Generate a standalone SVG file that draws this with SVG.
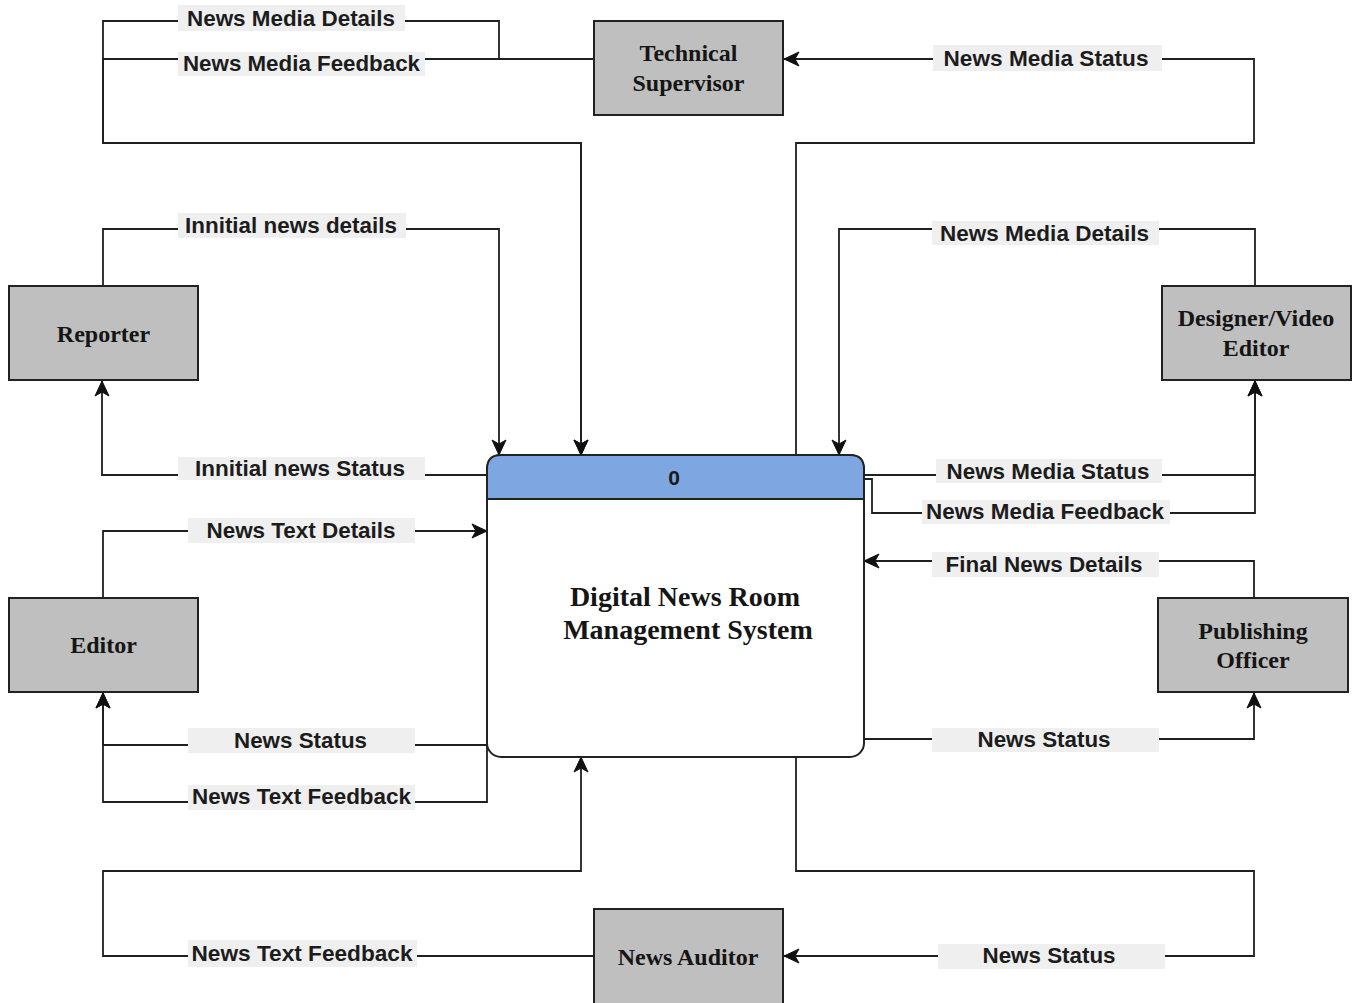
<svg xmlns="http://www.w3.org/2000/svg" width="1356" height="1003" viewBox="0 0 1356 1003">
<style>
.ln{fill:none;stroke:#1f1f1f;stroke-width:1.8}
.lbg{fill:#efefef}
.lt{font-family:"Liberation Sans",Arial,sans-serif;font-size:22px;font-weight:bold;fill:#1c1c1c;text-anchor:middle}
.box{fill:#bfbfbf;stroke:#222;stroke-width:2}
.et{font-family:"Liberation Serif","Times New Roman",serif;font-size:24px;font-weight:bold;fill:#151515;text-anchor:middle}
.pt{font-family:"Liberation Serif","Times New Roman",serif;font-size:28px;font-weight:bold;fill:#151515;text-anchor:middle}
</style>
<defs>
<marker id="arr" markerUnits="userSpaceOnUse" markerWidth="18" markerHeight="16" viewBox="0 0 18 16" refX="16" refY="8" orient="auto">
<path d="M1,1 L16,8 L1,15 L5,8 Z" fill="#111" stroke="#111" stroke-width="1" stroke-linejoin="miter"/>
</marker>
</defs>
<rect width="1356" height="1003" fill="#ffffff"/>

<g id="connectors">
<path class="ln" d="M594,59 L499,59 L499,21 L103,21 L103,143 L581,143 L581,455" marker-end="url(#arr)"/>
<path class="ln" d="M594,59 L103,59 L103,143 L581,143 L581,455" marker-end="url(#arr)"/>
<path class="ln" d="M796,455 L796,143 L1254,143 L1254,59 L784,59" marker-end="url(#arr)"/>
<path class="ln" d="M103,286 L103,229 L499,229 L499,455" marker-end="url(#arr)"/>
<path class="ln" d="M487,475 L102,475 L102,381" marker-end="url(#arr)"/>
<path class="ln" d="M103,597 L103,531 L487,531" marker-end="url(#arr)"/>
<path class="ln" d="M487,745 L103,745 L103,693" marker-end="url(#arr)"/>
<path class="ln" d="M487,745 L487,802 L103,802 L103,693" marker-end="url(#arr)"/>
<path class="ln" d="M594,956 L103,956 L103,871 L581,871 L581,757" marker-end="url(#arr)"/>
<path class="ln" d="M796,757 L796,871 L1254,871 L1254,956 L784,956" marker-end="url(#arr)"/>
<path class="ln" d="M1255,286 L1255,229 L839,229 L839,455" marker-end="url(#arr)"/>
<path class="ln" d="M864,475 L1255,475 L1255,381" marker-end="url(#arr)"/>
<path class="ln" d="M864,479 L872,479 L872,513 L1255,513 L1255,381" marker-end="url(#arr)"/>
<path class="ln" d="M1254,597 L1254,561 L864,561" marker-end="url(#arr)"/>
<path class="ln" d="M864,739 L1254,739 L1254,693" marker-end="url(#arr)"/>

<rect class="lbg" x="178" y="5" width="227" height="26"/>
<text class="lt" x="291" y="26" textLength="208" lengthAdjust="spacingAndGlyphs">News Media Details</text>
<rect class="lbg" x="178" y="52" width="247" height="24"/>
<text class="lt" x="301.5" y="71" textLength="237" lengthAdjust="spacingAndGlyphs">News Media Feedback</text>
<rect class="lbg" x="933" y="45" width="229" height="26"/>
<text class="lt" x="1046" y="66" textLength="205" lengthAdjust="spacingAndGlyphs">News Media Status</text>
<rect class="lbg" x="178" y="213" width="228" height="25"/>
<text class="lt" x="291" y="233" textLength="212" lengthAdjust="spacingAndGlyphs">Innitial news details</text>
<rect class="lbg" x="178" y="457" width="247" height="23"/>
<text class="lt" x="300" y="476" textLength="210" lengthAdjust="spacingAndGlyphs">Innitial news Status</text>
<rect class="lbg" x="188" y="518" width="227" height="25"/>
<text class="lt" x="301" y="537.5" textLength="189" lengthAdjust="spacingAndGlyphs">News Text Details</text>
<rect class="lbg" x="188" y="728" width="227" height="25"/>
<text class="lt" x="300.5" y="747.5" textLength="133" lengthAdjust="spacingAndGlyphs">News Status</text>
<rect class="lbg" x="188" y="785" width="227" height="25"/>
<text class="lt" x="301.5" y="804" textLength="219" lengthAdjust="spacingAndGlyphs">News Text Feedback</text>
<rect class="lbg" x="188" y="940" width="229" height="27"/>
<text class="lt" x="302" y="961" textLength="221" lengthAdjust="spacingAndGlyphs">News Text Feedback</text>
<rect class="lbg" x="938" y="944" width="227" height="25"/>
<text class="lt" x="1049" y="963" textLength="133" lengthAdjust="spacingAndGlyphs">News Status</text>
<rect class="lbg" x="932" y="221" width="227" height="24"/>
<text class="lt" x="1044.5" y="240.5" textLength="209" lengthAdjust="spacingAndGlyphs">News Media Details</text>
<rect class="lbg" x="936" y="459" width="226" height="24"/>
<text class="lt" x="1048" y="478.5" textLength="203" lengthAdjust="spacingAndGlyphs">News Media Status</text>
<rect class="lbg" x="922" y="500" width="248" height="24"/>
<text class="lt" x="1045" y="519" textLength="238" lengthAdjust="spacingAndGlyphs">News Media Feedback</text>
<rect class="lbg" x="932" y="552" width="227" height="25"/>
<text class="lt" x="1044" y="571.5" textLength="197" lengthAdjust="spacingAndGlyphs">Final News Details</text>
<rect class="lbg" x="932" y="728" width="227" height="24"/>
<text class="lt" x="1044" y="747" textLength="133" lengthAdjust="spacingAndGlyphs">News Status</text>
</g>

<g id="process-0">
<rect x="487" y="455" width="377" height="302" rx="14" ry="14" fill="#ffffff" stroke="#222" stroke-width="2"/>
<path d="M487,499 L487,469 Q487,455 501,455 L850,455 Q864,455 864,469 L864,499 Z" fill="#7ea6e0" stroke="#222" stroke-width="2"/>
<text x="674" y="485" font-family="Liberation Sans, Arial, sans-serif" font-size="21" font-weight="bold" fill="#1a1a1a" text-anchor="middle">0</text>
<text class="pt" x="685" y="606">Digital News Room</text>
<text class="pt" x="688" y="639">Management System</text>
</g>

<g id="technical-supervisor">
<rect class="box" x="594" y="21" width="189" height="94"/>
<text class="et" x="688.5" y="61">Technical</text>
<text class="et" x="688.5" y="91">Supervisor</text>
</g>

<g id="reporter">
<rect class="box" x="9" y="286" width="189" height="94"/>
<text class="et" x="103.5" y="341.5">Reporter</text>
</g>

<g id="editor">
<rect class="box" x="9" y="598" width="189" height="94"/>
<text class="et" x="103.5" y="653">Editor</text>
</g>

<g id="designer-video-editor">
<rect class="box" x="1162" y="286" width="189" height="94"/>
<text class="et" x="1256" y="326">Designer/Video</text>
<text class="et" x="1256" y="356">Editor</text>
</g>

<g id="publishing-officer">
<rect class="box" x="1158" y="598" width="190" height="94"/>
<text class="et" x="1253" y="638.5">Publishing</text>
<text class="et" x="1253" y="668">Officer</text>
</g>

<g id="news-auditor">
<rect class="box" x="594" y="909" width="189" height="96"/>
<text class="et" x="688" y="965">News Auditor</text>
</g>
</svg>
